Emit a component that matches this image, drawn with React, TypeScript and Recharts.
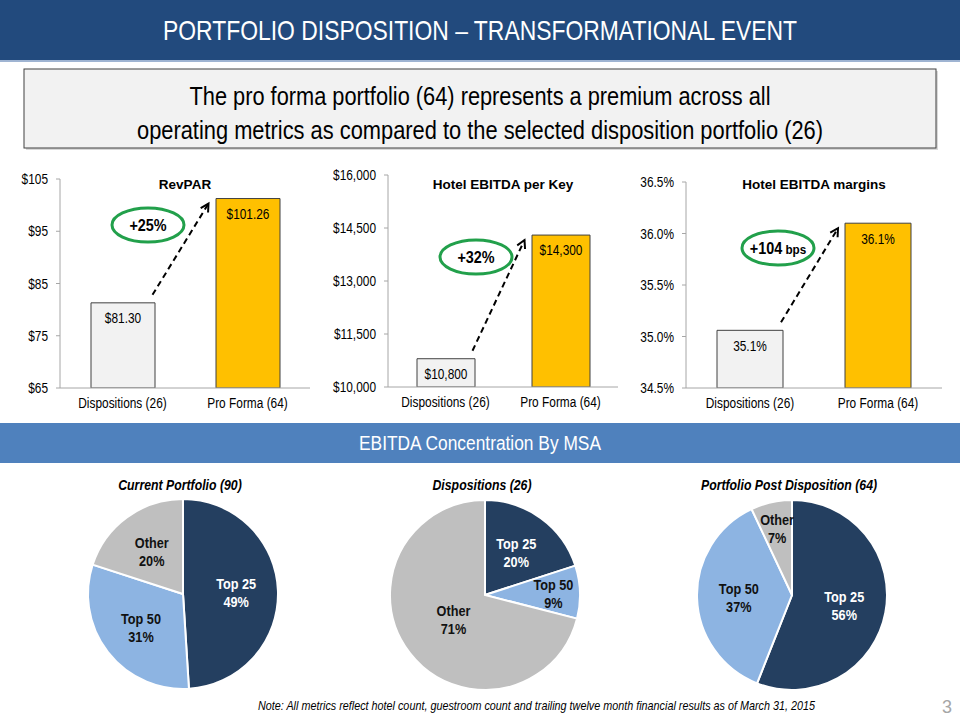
import { BarChart, Bar, XAxis, YAxis, Cell, LabelList, PieChart, Pie } from 'recharts'

// Arial Narrow가 없어서 Liberation Sans를 가로로 눌러서 사용
const SANS = "'Liberation Sans', Arial, sans-serif"
const SQUEEZE = 0.82

// 막대 차트 데이터
const barCategories = ['Dispositions (26)', 'Pro Forma (64)']
const revparValues = [81.3, 101.26]
const ebitdaKeyValues = [10800, 14300]
const marginValues = [35.06, 36.1]
const revparTicks = [65, 75, 85, 95, 105]
const ebitdaKeyTicks = [10000, 11500, 13000, 14500, 16000]
const marginTicks = [34.5, 35.0, 35.5, 36.0, 36.5]

// 원형 차트 데이터 (MSA별 EBITDA 비중, %)
const msaNames = ['Top 25', 'Top 50', 'Other']
const currentShares = [49, 31, 20]
const dispositionShares = [20, 9, 71]
const postShares = [56, 37, 7]

const barFills = ['#f2f2f2', '#ffc000']
const pieFills = ['#243f60', '#8db4e2', '#bfbfbf']
const pieLabelColors = ['#ffffff', '#111111', '#111111']

interface NTextProps {
  x: number
  y: number
  anchor?: 'start' | 'middle' | 'end'
  size: number
  weight?: string
  italic?: boolean
  fill?: string
  dy?: string
  children: any
}

// 좁은 글꼴 흉내
function NText({ x, y, anchor = 'middle', size, weight = 'normal', italic, fill = '#000', dy, children }: NTextProps) {
  return (
    <g transform={`translate(${x},${y}) scale(${SQUEEZE},1)`}>
      <text
        x={0}
        y={0}
        dy={dy}
        textAnchor={anchor}
        fontFamily={SANS}
        fontSize={size}
        fontWeight={weight}
        fontStyle={italic ? 'italic' : 'normal'}
        fill={fill}
      >
        {children}
      </text>
    </g>
  )
}

interface PlotBox { l: number; r: number; t: number; b: number }

interface BarPanelProps {
  left: number
  top: number
  width: number
  height: number
  plot: PlotBox
  title: string
  values: number[]
  ticks: number[]
  tickFmt: (v: number) => string
  labelFmt: (v: number) => string
  barSize: number
  change: string
  changeUnit?: string
  bubble: { x: number; y: number }
}

function BarPanel(p: BarPanelProps) {
  const data = barCategories.map((name, i) => ({ name, value: p.values[i] }))
  const min = p.ticks[0]
  const max = p.ticks[p.ticks.length - 1]
  const yOf = (v: number) => p.plot.t + ((max - v) / (max - min)) * (p.plot.b - p.plot.t)
  const band = (p.plot.r - p.plot.l) / data.length
  const barLeft = (i: number) => p.plot.l + band * (i + 0.5) - p.barSize / 2

  // 점선 화살표 (1번 막대 위 -> 2번 막대 옆)
  const x1 = barLeft(0) + p.barSize - 2
  const y1 = yOf(p.values[0]) - 8
  const x2 = barLeft(1) - 7
  const y2 = yOf(p.values[1]) + 5
  const ang = Math.atan2(y2 - y1, x2 - x1)
  const head = 9
  const hx1 = x2 - head * Math.cos(ang - 0.5)
  const hy1 = y2 - head * Math.sin(ang - 0.5)
  const hx2 = x2 - head * Math.cos(ang + 0.5)
  const hy2 = y2 - head * Math.sin(ang + 0.5)

  const yTick = (t: any) => (
    <NText x={t.x} y={t.y} anchor="end" size={14.5} dy="0.355em">
      {p.tickFmt(Number(t.payload.value))}
    </NText>
  )
  const xTick = (t: any) => (
    <NText x={t.x} y={t.y} anchor="middle" size={14.5} dy="0.85em">
      {t.payload.value}
    </NText>
  )
  const barLabel = (l: any) => (
    <NText x={Number(l.x) + Number(l.width) / 2} y={Number(l.y) + 8} anchor="middle" size={14.5} dy="0.85em">
      {p.labelFmt(Number(l.value))}
    </NText>
  )

  return (
    <div style={{ position: 'absolute', left: p.left, top: p.top, width: p.width, height: p.height }}>
      <BarChart
        width={p.width}
        height={p.height}
        data={data}
        margin={{ top: p.plot.t, right: p.width - p.plot.r, bottom: p.height - p.plot.b - 30, left: 0 }}
      >
        <XAxis
          dataKey="name"
          height={30}
          axisLine={{ stroke: '#a6a6a6' }}
          tickLine={false}
          tick={xTick}
          interval={0}
        />
        <YAxis
          width={p.plot.l}
          domain={[min, max]}
          ticks={p.ticks}
          allowDataOverflow
          axisLine={{ stroke: '#a6a6a6' }}
          tickLine={{ stroke: '#a6a6a6' }}
          tickSize={4}
          tickMargin={8}
          tick={yTick}
        />
        <Bar dataKey="value" barSize={p.barSize} isAnimationActive={false} stroke="#404040" strokeWidth={1}>
          {data.map((_, i) => (
            <Cell key={i} fill={barFills[i]} />
          ))}
          <LabelList dataKey="value" content={barLabel} />
        </Bar>
      </BarChart>
      <svg
        width={p.width}
        height={p.height}
        style={{ position: 'absolute', left: 0, top: 0, pointerEvents: 'none', overflow: 'visible' }}
      >
        <text
          x={(p.plot.l + p.plot.r) / 2}
          y={29}
          textAnchor="middle"
          fontFamily={SANS}
          fontWeight="bold"
          fontSize={13.5}
          fill="#000"
        >
          {p.title}
        </text>
        <line x1={x1} y1={y1} x2={x2} y2={y2} stroke="#000" strokeWidth={2} strokeDasharray="6 4" />
        <polyline points={`${hx1},${hy1} ${x2},${y2} ${hx2},${hy2}`} fill="none" stroke="#000" strokeWidth={2} />
        <ellipse cx={p.bubble.x} cy={p.bubble.y} rx={36} ry={17} fill="none" stroke="#22a04b" strokeWidth={3} />
        <g transform={`translate(${p.bubble.x},${p.bubble.y + 6}) scale(0.9,1)`}>
          <text x={0} y={0} textAnchor="middle" fontFamily={SANS} fontWeight="bold" fontSize={16} fill="#000">
            {p.change}
            {p.changeUnit ? <tspan fontSize={13}> {p.changeUnit}</tspan> : null}
          </text>
        </g>
      </svg>
    </div>
  )
}

interface PiePanelProps {
  left: number
  top: number
  width: number
  height: number
  cx: number
  cy: number
  title: string
  shares: number[]
}

function PiePanel(p: PiePanelProps) {
  const data = msaNames.map((name, i) => ({ name, value: p.shares[i] }))
  const RAD = Math.PI / 180

  const renderLabel = (props: any) => {
    const { cx, cy, midAngle, outerRadius, percent, index, name, value } = props
    const k = percent < 0.1 ? 0.72 : percent > 0.7 ? 0.42 : 0.56
    const r = outerRadius * k
    const x = cx + r * Math.cos(-midAngle * RAD)
    const y = cy + r * Math.sin(-midAngle * RAD)
    return (
      <g>
        <NText x={x} y={y - 3} size={15.5} weight="bold" fill={pieLabelColors[index]}>
          {name}
        </NText>
        <NText x={x} y={y + 15} size={15.5} weight="bold" fill={pieLabelColors[index]}>
          {`${value}%`}
        </NText>
      </g>
    )
  }

  return (
    <div style={{ position: 'absolute', left: p.left, top: p.top, width: p.width, height: p.height }}>
      <PieChart width={p.width} height={p.height} margin={{ top: 0, right: 0, bottom: 0, left: 0 }}>
        <Pie
          data={data}
          dataKey="value"
          nameKey="name"
          cx={p.cx}
          cy={p.cy}
          outerRadius={95}
          startAngle={90}
          endAngle={-270}
          stroke="#ffffff"
          strokeWidth={2}
          isAnimationActive={false}
          labelLine={false}
          label={renderLabel}
        >
          {data.map((_, i) => (
            <Cell key={i} fill={pieFills[i]} />
          ))}
        </Pie>
      </PieChart>
      <svg width={p.width} height={30} style={{ position: 'absolute', left: 0, top: 0, overflow: 'visible' }}>
        <NText x={p.cx - 3} y={20} size={15} weight="bold" italic>
          {p.title}
        </NText>
      </svg>
    </div>
  )
}

export default function App() {
  return (
    <div style={{ position: 'absolute', left: 0, top: 0, width: 960, height: 720, background: '#fff', overflow: 'hidden' }}>
      <svg width={960} height={720} style={{ position: 'absolute', left: 0, top: 0 }}>
        {/* 상단 제목 띠 */}
        <rect x={0} y={0} width={960} height={60} fill="#224a7d" />
        <rect x={0} y={60} width={960} height={2} fill="#9fb4d2" />
        <text x={480} y={40} textAnchor="middle" fontFamily={SANS} fontSize={28} fill="#fff" textLength={634} lengthAdjust="spacingAndGlyphs">
          PORTFOLIO DISPOSITION – TRANSFORMATIONAL EVENT
        </text>

        {/* 설명 상자 */}
        <rect x={26} y={71} width={912} height={79} fill="#d9d9d9" />
        <rect x={24} y={69} width={912} height={79} fill="#f2f2f2" stroke="#404040" strokeWidth={1} />
        <text x={480} y={105} textAnchor="middle" fontFamily={SANS} fontSize={25} fill="#000" textLength={581} lengthAdjust="spacingAndGlyphs">
          The pro forma portfolio (64) represents a premium across all
        </text>
        <text x={480} y={139} textAnchor="middle" fontFamily={SANS} fontSize={25} fill="#000" textLength={686} lengthAdjust="spacingAndGlyphs">
          operating metrics as compared to the selected disposition portfolio (26)
        </text>

        {/* 중간 띠 */}
        <rect x={0} y={423} width={960} height={40} fill="#4f81bd" />
        <text x={480} y={450} textAnchor="middle" fontFamily={SANS} fontSize={20} fill="#fff" textLength={242} lengthAdjust="spacingAndGlyphs">
          EBITDA Concentration By MSA
        </text>

        {/* 각주 */}
        <text x={258} y={710} fontFamily={SANS} fontStyle="italic" fontSize={13} fill="#000" textLength={557} lengthAdjust="spacingAndGlyphs">
          Note: All metrics reflect hotel count, guestroom count and trailing twelve month financial results as of March 31, 2015
        </text>
        <text x={947} y={713} textAnchor="middle" fontFamily={SANS} fontSize={18} fill="#a6a6a6">
          3
        </text>
      </svg>

      <BarPanel
        left={0}
        top={160}
        width={320}
        height={260}
        plot={{ l: 60, r: 310, t: 19, b: 228 }}
        title="RevPAR"
        values={revparValues}
        ticks={revparTicks}
        tickFmt={(v) => `$${v}`}
        labelFmt={(v) => `$${v.toFixed(2)}`}
        barSize={64}
        change="+25%"
        bubble={{ x: 148, y: 65 }}
      />
      <BarPanel
        left={320}
        top={160}
        width={320}
        height={260}
        plot={{ l: 68, r: 298, t: 15, b: 227 }}
        title="Hotel EBITDA per Key"
        values={ebitdaKeyValues}
        ticks={ebitdaKeyTicks}
        tickFmt={(v) => `$${v.toLocaleString('en-US')}`}
        labelFmt={(v) => `$${v.toLocaleString('en-US')}`}
        barSize={58}
        change="+32%"
        bubble={{ x: 156, y: 97 }}
      />
      <BarPanel
        left={640}
        top={160}
        width={320}
        height={260}
        plot={{ l: 46, r: 302, t: 22, b: 228 }}
        title="Hotel EBITDA margins"
        values={marginValues}
        ticks={marginTicks}
        tickFmt={(v) => `${v.toFixed(1)}%`}
        labelFmt={(v) => `${v.toFixed(1)}%`}
        barSize={66}
        change="+104"
        changeUnit="bps"
        bubble={{ x: 138, y: 88 }}
      />

      <PiePanel left={60} top={470} width={250} height={230} cx={123} cy={124} title="Current Portfolio (90)" shares={currentShares} />
      <PiePanel left={362} top={470} width={250} height={230} cx={123} cy={125} title="Dispositions (26)" shares={dispositionShares} />
      <PiePanel left={670} top={470} width={250} height={230} cx={122} cy={125} title="Portfolio Post Disposition (64)" shares={postShares} />
    </div>
  )
}
